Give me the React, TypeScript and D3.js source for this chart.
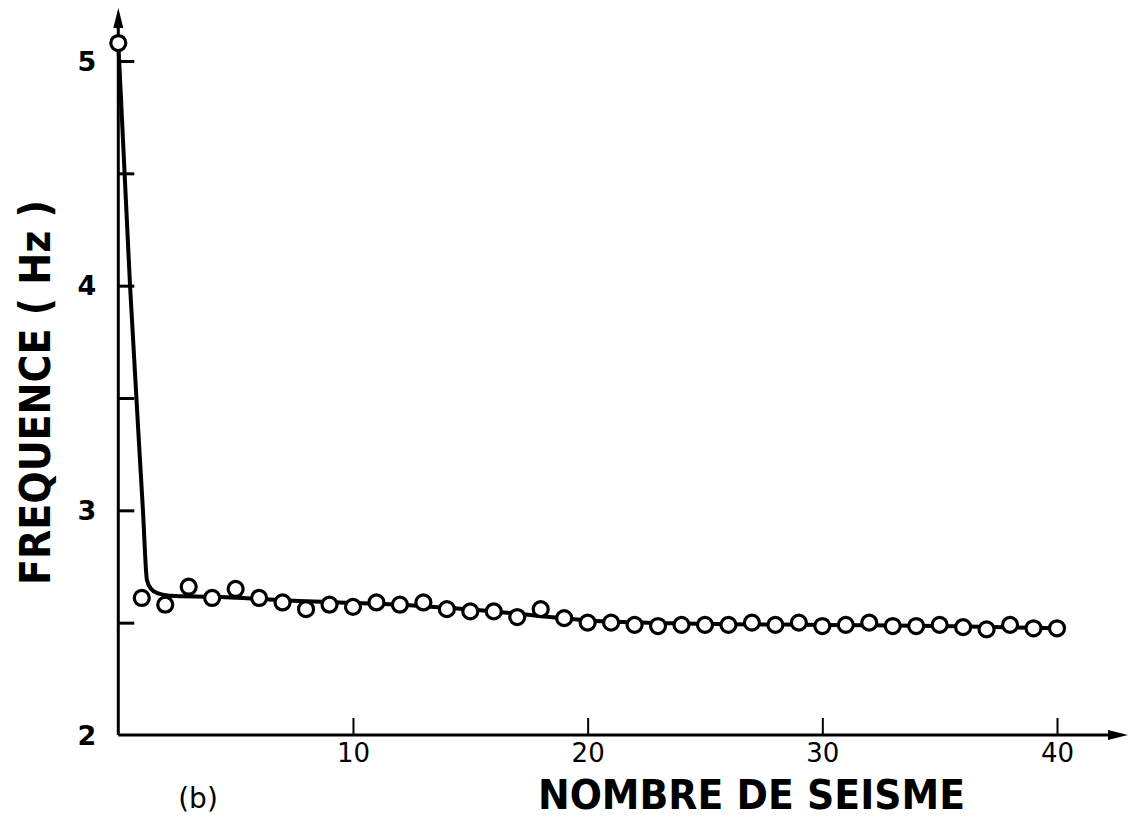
import * as d3 from "d3";
import { useEffect, useRef } from "react";

// number of the earthquake (x) and measured frequency in Hz (y)
const seismeNumber = [
  0, 1, 2, 3, 4, 5, 6, 7, 8, 9, 10, 11, 12, 13, 14, 15, 16, 17, 18, 19, 20,
  21, 22, 23, 24, 25, 26, 27, 28, 29, 30, 31, 32, 33, 34, 35, 36, 37, 38, 39, 40,
];
const frequence = [
  5.08, 2.61, 2.58, 2.66, 2.61, 2.65, 2.61, 2.59, 2.56, 2.58, 2.57, 2.59, 2.58,
  2.59, 2.56, 2.55, 2.55, 2.525, 2.56, 2.52, 2.5, 2.5, 2.49, 2.485, 2.49, 2.49,
  2.49, 2.5, 2.49, 2.5, 2.485, 2.49, 2.5, 2.485, 2.485, 2.49, 2.48, 2.47, 2.49,
  2.475, 2.475,
];

// hand drawn fitted curve
const fitX = [0, 0.5, 1.05, 1.22, 1.4, 1.7, 2.2, 4, 8, 12, 16, 20, 25, 30, 35, 40];
const fitY = [
  5.08, 4.0, 3.0, 2.69, 2.65, 2.63, 2.62, 2.615, 2.595, 2.58, 2.55, 2.51, 2.495,
  2.49, 2.485, 2.475,
];

const xTicks = [10, 20, 30, 40];
const yTicks = [2.5, 3, 3.5, 4, 4.5, 5];
const yLabels = [2, 3, 4, 5];

export default function App() {
  const svgRef = useRef<SVGSVGElement | null>(null);

  useEffect(() => {
    const width = 1130;
    const height = 818;
    const font = "'DejaVu Sans', sans-serif";

    const svg = d3.select(svgRef.current);
    svg.selectAll("*").remove();
    svg.attr("width", width).attr("height", height);

    const x = d3.scaleLinear().domain([0, 40]).range([118.3, 1057]);
    const y = d3.scaleLinear().domain([2, 5]).range([735, 61]);

    const x0 = x(0);
    const y0 = y(2);

    // axes lines with arrows
    svg
      .append("line")
      .attr("x1", x0)
      .attr("y1", y0)
      .attr("x2", x0)
      .attr("y2", 22)
      .attr("stroke", "#000")
      .attr("stroke-width", 3);
    svg
      .append("path")
      .attr("d", `M${x0},8 L${x0 - 5},28 L${x0 + 5},28 Z`)
      .attr("fill", "#000");

    svg
      .append("line")
      .attr("x1", x0)
      .attr("y1", y0)
      .attr("x2", 1112)
      .attr("y2", y0)
      .attr("stroke", "#000")
      .attr("stroke-width", 3);
    svg
      .append("path")
      .attr("d", `M1128,${y0} L1108,${y0 - 5} L1108,${y0 + 5} Z`)
      .attr("fill", "#000");

    // y ticks pointing inward
    const yAxis = svg
      .append("g")
      .attr("transform", `translate(${x0},0)`)
      .call(
        d3
          .axisLeft(y)
          .tickValues(yTicks)
          .tickSizeInner(-16)
          .tickSizeOuter(0)
          .tickFormat(() => "")
      );
    yAxis.select(".domain").remove();
    yAxis.selectAll("line").attr("stroke", "#000").attr("stroke-width", 3);

    svg
      .append("g")
      .selectAll("text")
      .data(yLabels)
      .join("text")
      .attr("x", x0 - 22)
      .attr("y", (d) => y(d))
      .attr("dy", "0.36em")
      .attr("text-anchor", "end")
      .attr("font-family", font)
      .attr("font-weight", "bold")
      .attr("font-size", 27)
      .text((d) => d);

    // x ticks pointing up
    const xAxis = svg
      .append("g")
      .attr("transform", `translate(0,${y0})`)
      .call(
        d3
          .axisBottom(x)
          .tickValues(xTicks)
          .tickSizeInner(-17)
          .tickSizeOuter(0)
          .tickPadding(9)
      );
    xAxis.select(".domain").remove();
    xAxis.selectAll("line").attr("stroke", "#000").attr("stroke-width", 2);
    xAxis
      .selectAll("text")
      .attr("fill", "#000")
      .attr("font-family", font)
      .attr("font-size", 26);

    // fitted curve
    const line = d3
      .line<number>()
      .x((_, i) => x(fitX[i]))
      .y((d) => y(d))
      .curve(d3.curveMonotoneX);
    svg
      .append("path")
      .attr("d", line(fitY))
      .attr("fill", "none")
      .attr("stroke", "#000")
      .attr("stroke-width", 4);

    // measured points
    svg
      .append("g")
      .selectAll("circle")
      .data(frequence)
      .join("circle")
      .attr("cx", (_, i) => x(seismeNumber[i]))
      .attr("cy", (d) => y(d))
      .attr("r", 7.5)
      .attr("fill", "#fff")
      .attr("stroke", "#000")
      .attr("stroke-width", 3.2);

    // axis titles
    svg
      .append("text")
      .attr("x", 538)
      .attr("y", 809)
      .attr("font-family", font)
      .attr("font-weight", "bold")
      .attr("font-size", 40)
      .attr("textLength", 427)
      .attr("lengthAdjust", "spacingAndGlyphs")
      .text("NOMBRE  DE  SEISME");

    svg
      .append("text")
      .attr("transform", "translate(50,585) rotate(-90)")
      .attr("font-family", font)
      .attr("font-weight", "bold")
      .attr("font-size", 43)
      .attr("textLength", 385)
      .attr("lengthAdjust", "spacingAndGlyphs")
      .text("FREQUENCE  ( Hz )");

    svg
      .append("text")
      .attr("x", 198)
      .attr("y", 808)
      .attr("text-anchor", "middle")
      .attr("font-family", font)
      .attr("font-size", 28)
      .text("(b)");
  }, []);

  return (
    <div style={{ position: "absolute", left: 0, top: 0, background: "#fff" }}>
      <svg ref={svgRef}></svg>
    </div>
  );
}
